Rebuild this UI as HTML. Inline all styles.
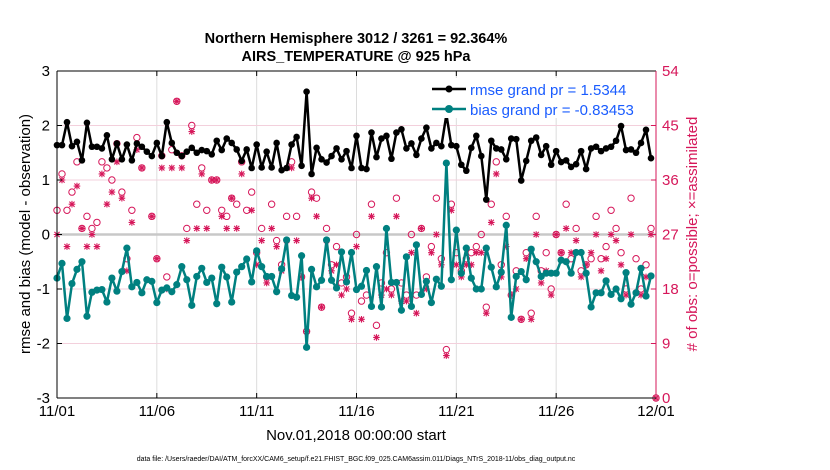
<!DOCTYPE html>
<html><head><meta charset="utf-8">
<style>
html,body{margin:0;padding:0;background:#fff;}
svg{display:block;font-family:"Liberation Sans",sans-serif;}
</style></head>
<body>
<svg id="chart" width="830" height="470" viewBox="0 0 830 470" xmlns="http://www.w3.org/2000/svg">
<g id="grid"></g>
<g id="obs"></g>
<g id="series"></g>
<g id="axes"></g>
<text x="356" y="43" text-anchor="middle" font-size="14.5" font-weight="bold">Northern Hemisphere 3012 / 3261 = 92.364%</text>
<text x="356" y="61" text-anchor="middle" font-size="14.5" font-weight="bold">AIRS_TEMPERATURE @ 925 hPa</text>
<text transform="translate(30,234) rotate(-90)" text-anchor="middle" font-size="15">rmse and bias (model - observation)</text>
<text transform="translate(697,234) rotate(-90)" text-anchor="middle" font-size="15" fill="#d6175a"># of obs: o=possible; ×=assimilated</text>
<text x="356" y="440" text-anchor="middle" font-size="15">Nov.01,2018 00:00:00 start</text>
<text x="356" y="461" text-anchor="middle" font-size="7">data file: /Users/raeder/DAI/ATM_forcXX/CAM6_setup/f.e21.FHIST_BGC.f09_025.CAM6assim.011/Diags_NTrS_2018-11/obs_diag_output.nc</text>
<g>
<rect x="428" y="78" width="222" height="40" fill="#fff"/>
<g>
<line x1="432" y1="89" x2="466" y2="89" stroke="#000" stroke-width="2.5"/>
<circle cx="449" cy="89" r="3.5" fill="#000"/>
<text x="470" y="95" font-size="15" fill="#1a5cff">rmse grand pr = 1.5344</text>
</g>
<g>
<line x1="432" y1="109" x2="466" y2="109" stroke="#008080" stroke-width="2.5"/>
<circle cx="449" cy="109" r="4" fill="#008080"/>
<text x="470" y="115" font-size="15" fill="#1a5cff">bias grand pr = -0.83453</text>
</g>
</g>
</svg>
<script>
const rmse = [1.64,1.64,2.06,1.62,1.70,1.36,2.05,1.61,1.61,1.58,1.82,1.38,1.67,1.38,1.65,1.36,1.67,1.61,1.52,1.44,1.68,1.44,2.06,1.68,1.50,1.44,1.52,1.59,1.50,1.55,
1.53,1.47,1.72,1.55,1.76,1.68,1.56,1.35,1.56,1.22,1.65,1.23,1.52,1.23,1.68,1.18,1.22,1.65,1.79,1.26,2.62,1.11,1.59,1.38,1.32,1.44,1.58,1.38,1.53,1.22,
1.81,1.22,1.20,1.87,1.42,1.76,1.81,1.39,1.87,1.93,1.58,1.67,1.46,1.76,1.96,1.58,1.68,1.62,2.20,1.64,1.62,1.28,1.17,1.59,1.81,1.44,0.64,1.72,1.58,1.56,
1.38,1.76,1.75,0.99,1.35,1.72,1.78,1.46,1.62,1.28,1.53,1.33,1.36,1.24,1.29,1.53,1.20,1.58,1.61,1.53,1.58,1.61,1.72,1.99,1.55,1.56,1.50,1.68,1.92,1.40];
const bias = [-0.80,-0.53,-1.54,-0.90,-0.64,-0.50,-1.50,-1.06,-1.02,-1.01,-1.24,-0.80,-1.04,-0.68,-0.25,-0.96,-0.88,-1.07,-0.83,-0.86,-1.25,-1.02,-0.98,-1.05,-0.92,-0.59,-0.83,-1.30,-0.77,-0.62,
-0.88,-0.80,-1.27,-0.60,-0.78,-1.24,-0.69,-0.59,-0.45,-0.87,-0.30,-0.59,-0.77,-0.77,-1.05,-0.63,-0.10,-1.12,-1.15,-0.39,-2.07,-0.64,-0.96,-0.84,-0.10,-0.84,-0.98,-0.32,-0.87,-0.33,
-1.01,-0.95,-0.66,-1.32,-0.59,-1.33,0.11,-0.88,-0.88,-1.39,-0.41,-1.32,-0.19,-1.10,-0.86,-1.25,-0.82,-0.95,1.31,-0.83,0.08,-0.71,-0.25,-0.80,-1.00,-1.00,-0.25,-0.60,-0.96,-0.69,
0.17,-1.52,-0.77,-0.68,-0.83,-0.27,-0.50,-0.77,-0.71,-0.71,-0.71,-0.47,-0.50,-0.71,-0.33,-0.33,-0.71,-1.33,-1.07,-1.07,-0.85,-1.10,-1.00,-1.18,-0.70,-1.28,-1.07,-0.62,-1.13,-0.76];
const possible = [31,37,31,34,39,28,30,28,29,39,38,36,42,34,23,31,43,38,null,30,23,40,20,41,49,40,28,45,32,38,
31,36,36,31,30,33,32,39,31,34,24,28,20,32,26,22,30,39,30,20,11,34,33,15,28,22,25,19,20,14,
27,16,17,32,12,19,24,18,33,19,17,27,17,28,20,25,33,23,8,32,24,21,23,24,25,27,15,32,39,22,
30,17,21,13,24,14,30,21,24,18,27,24,32,23,28,21,22,23,30,23,25,31,28,24,18,33,23,18,22,28,0];
const assimilated = [27,36,25,32,35,28,25,27,25,37,32,34,39,33,21,29,41,38,null,30,23,38,18,38,49,38,26,44,28,37,
28,36,36,30,28,33,28,37,null,31,22,26,19,28,25,21,26,38,26,20,11,33,30,15,26,21,22,17,18,13,
25,13,null,30,10,17,18,17,30,16,16,24,14,28,18,24,27,22,7,31,22,20,22,22,24,24,14,29,37,20,
25,17,18,13,23,13,27,19,21,17,27,24,28,24,26,20,22,24,27,21,23,27,26,22,17,27,null,17,20,27,0];
const xTickLabels = ['11/01','11/06','11/11','11/16','11/21','11/26','12/01'];
const xTickDays = [0,5,10,15,20,25,30];
const yLeftTicks = [-3,-2,-1,0,1,2,3];
const yRightTicks = [0,9,18,27,36,45,54];

const NS='http://www.w3.org/2000/svg';
const L=57, R=656, T=71, B=398;
const xDay = d => L + d*(R-L)/30;
const xIdx = i => xDay(i*0.25);
const yL = v => B - (v+3)*(B-T)/6;
const yR = v => B - v*(B-T)/54;
function mk(tag, attrs, parent){const e=document.createElementNS(NS,tag);for(const k in attrs)e.setAttribute(k,attrs[k]);parent.appendChild(e);return e;}
const grid=document.getElementById('grid'), axes=document.getElementById('axes'), series=document.getElementById('series'), obs=document.getElementById('obs');
const C='#d6175a';

xTickDays.forEach((d,k)=>{
  const x=xDay(d);
  if(k>0&&k<xTickDays.length-1){const g=mk('line',{x1:x,y1:T,x2:x,y2:B,stroke:'#dcdcdc','stroke-width':1},grid);
  
  }
  mk('line',{x1:x,y1:B,x2:x,y2:B-5,stroke:'#000'},axes);
  mk('line',{x1:x,y1:T,x2:x,y2:T+5,stroke:'#000'},axes);
  const t=mk('text',{x:x,y:B+18,'text-anchor':'middle','font-size':15},axes);
  t.textContent=xTickLabels[k];
  
  
});
yLeftTicks.forEach(v=>{
  const y=yL(v);
  if(v!==-3&&v!==3){const g=mk('line',{x1:L,y1:y,x2:R,y2:y,stroke:v===0?'#c8c8c8':'#f3d0dc','stroke-width':v===0?2.5:1},grid);
  
  }
  mk('line',{x1:L,y1:y,x2:L+5,y2:y,stroke:'#000'},axes);
  const t=mk('text',{x:L-7,y:y+5,'text-anchor':'end','font-size':15},axes);
  t.textContent=String(v);
  
  
});
yRightTicks.forEach(v=>{
  const y=yR(v);
  mk('line',{x1:R,y1:y,x2:R-5,y2:y,stroke:C},axes);
  const t=mk('text',{x:R+6,y:y+5,'font-size':15,fill:C},axes);
  t.textContent=String(v);
  
  
});
mk('line',{x1:L,y1:T,x2:R,y2:T,stroke:'#000'},axes);
mk('line',{x1:L,y1:B,x2:R,y2:B,stroke:'#000'},axes);
mk('line',{x1:L,y1:T,x2:L,y2:B,stroke:'#000'},axes);
mk('line',{x1:R,y1:T,x2:R,y2:B,stroke:C},axes);

// observation counts
possible.forEach((v,i)=>{
  if(v===null)return;
  const c=mk('circle',{cx:xIdx(i),cy:yR(v),r:3.2,fill:'none',stroke:C,'stroke-width':1},obs);
  
  
});
assimilated.forEach((v,i)=>{
  if(v===null)return;
  const x=xIdx(i), y=yR(v), s=3.3, d=2.6;
  const p=mk('path',{d:`M${x},${y-s}V${y+s}M${x-d},${y-d}L${x+d},${y+d}M${x-d},${y+d}L${x+d},${y-d}M${x-s},${y}H${x+s}`,stroke:C,'stroke-width':1.1,fill:'none'},obs);
  
  
});

function drawLine(arr,color,name,r){
  const pts=arr.map((v,i)=>xIdx(i).toFixed(1)+','+yL(v).toFixed(1)).join(' ');
  const pl=mk('polyline',{points:pts,fill:'none',stroke:color,'stroke-width':2.5,'stroke-linejoin':'round'},series);
  
  
  arr.forEach((v,i)=>{
    const c=mk('circle',{cx:xIdx(i),cy:yL(v),r:r,fill:color},series);
    
    
  });
}
drawLine(rmse,'#000','rmse',3.3);
drawLine(bias,'#008080','bias',3.6);
</script>
</body></html>
